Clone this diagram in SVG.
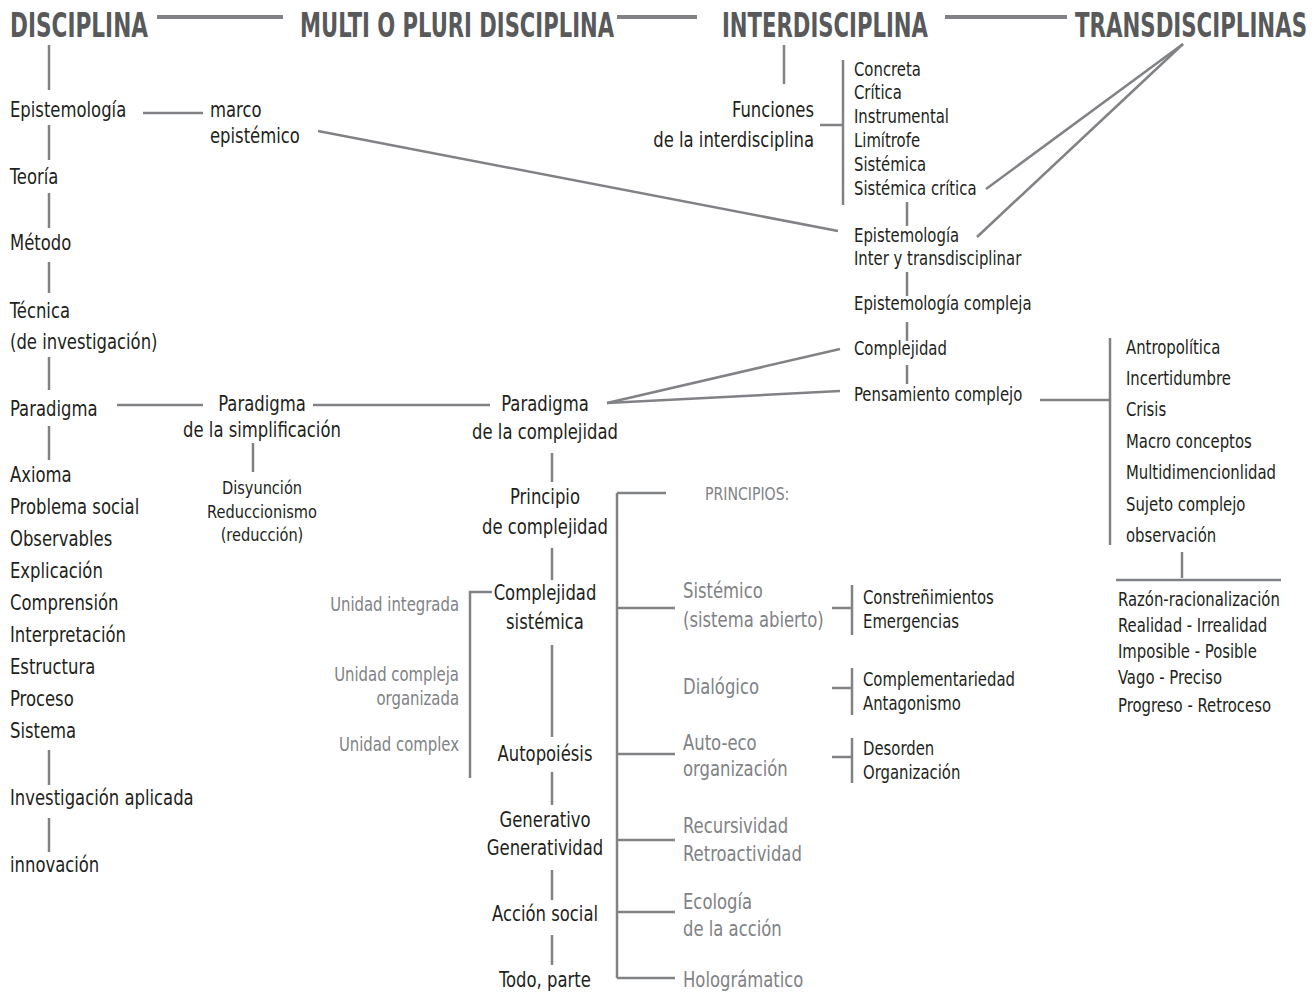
<svg xmlns="http://www.w3.org/2000/svg" width="1316" height="995" viewBox="0 0 1316 995">
<style>
text{font-family:"DejaVu Sans Condensed","DejaVu Sans","Liberation Sans",sans-serif;font-stretch:condensed;fill:#231f20;font-size:21px}
text:not(.h){transform-box:fill-box;transform-origin:left center;transform:scaleX(0.87)}
.h{font-weight:bold;font-size:22px;fill:#58595b}
.s{font-size:19px}
text.xs{font-size:18px;transform:scaleX(0.9)}
.g{fill:#808285}
text.m{text-anchor:middle;transform-origin:center center}
text.e{text-anchor:end;transform-origin:right center}
.pr{font-size:18px}
#connectors line,#connectors polyline{stroke:#808285;stroke-width:2.5;fill:none}
#connectors .hd{stroke-width:4}
</style>
<rect width="1316" height="995" fill="#ffffff"/>
<g id="connectors">
<line class="hd" x1="157" y1="17" x2="283" y2="17"/>
<line class="hd" x1="617" y1="17" x2="697" y2="17"/>
<line class="hd" x1="945" y1="17" x2="1067" y2="17"/>
<line x1="49" y1="45" x2="49" y2="90"/>
<line x1="49" y1="125" x2="49" y2="160"/>
<line x1="49" y1="193" x2="49" y2="228"/>
<line x1="49" y1="262" x2="49" y2="293"/>
<line x1="49" y1="357" x2="49" y2="390"/>
<line x1="49" y1="426" x2="49" y2="460"/>
<line x1="49" y1="750" x2="49" y2="785"/>
<line x1="49" y1="818" x2="49" y2="852"/>
<line x1="143" y1="113" x2="203" y2="113"/>
<line x1="318" y1="131" x2="838" y2="231"/>
<line x1="784" y1="45" x2="784" y2="84"/>
<line x1="820" y1="125" x2="843" y2="125"/>
<line x1="843" y1="60" x2="843" y2="205"/>
<line x1="907" y1="202" x2="907" y2="226"/>
<line x1="907" y1="272" x2="907" y2="296"/>
<line x1="907" y1="322" x2="907" y2="341"/>
<line x1="907" y1="365" x2="907" y2="384"/>
<line x1="1183" y1="44" x2="986" y2="189"/>
<line x1="1183" y1="44" x2="977" y2="237"/>
<line x1="607" y1="403" x2="840" y2="349"/>
<line x1="607" y1="403" x2="840" y2="391"/>
<line x1="1040" y1="400" x2="1110" y2="400"/>
<line x1="1110" y1="338" x2="1110" y2="545"/>
<line x1="1182" y1="552" x2="1182" y2="578"/>
<line x1="1116" y1="580" x2="1281" y2="580"/>
<line x1="117" y1="405" x2="203" y2="405"/>
<line x1="313" y1="405" x2="490" y2="405"/>
<line x1="253" y1="443" x2="253" y2="472"/>
<line x1="552" y1="453" x2="552" y2="482"/>
<line x1="552" y1="548" x2="552" y2="580"/>
<line x1="552" y1="645" x2="552" y2="737"/>
<line x1="552" y1="772" x2="552" y2="805"/>
<line x1="552" y1="870" x2="552" y2="900"/>
<line x1="552" y1="935" x2="552" y2="965"/>
<polyline points="492,592 470,592 470,778"/>
<line x1="617" y1="493" x2="617" y2="978"/>
<line x1="617" y1="493" x2="666" y2="493"/>
<line x1="617" y1="608" x2="675" y2="608"/>
<line x1="617" y1="754" x2="675" y2="754"/>
<line x1="617" y1="840" x2="675" y2="840"/>
<line x1="617" y1="912" x2="675" y2="912"/>
<line x1="617" y1="978" x2="675" y2="978"/>
<line x1="832" y1="608" x2="852" y2="608"/>
<line x1="852" y1="585" x2="852" y2="635"/>
<line x1="832" y1="688" x2="852" y2="688"/>
<line x1="852" y1="668" x2="852" y2="715"/>
<line x1="832" y1="757" x2="852" y2="757"/>
<line x1="852" y1="738" x2="852" y2="783"/>
</g>
<g id="headers" transform="translate(0 37) scale(1 1.5) translate(0 -37)">
<text class="h" x="10" y="37" textLength="138" lengthAdjust="spacingAndGlyphs">DISCIPLINA</text>
<text class="h" x="300" y="37" textLength="314" lengthAdjust="spacingAndGlyphs">MULTI O PLURI DISCIPLINA</text>
<text class="h" x="722" y="37" textLength="206" lengthAdjust="spacingAndGlyphs">INTERDISCIPLINA</text>
<text class="h" x="1075" y="37" textLength="232" lengthAdjust="spacingAndGlyphs">TRANSDISCIPLINAS</text>
</g>
<g id="disciplina-column">
<text x="10" y="117">Epistemología</text>
<text x="10" y="184">Teoría</text>
<text x="10" y="250">Método</text>
<text x="10" y="318">Técnica</text>
<text x="10" y="349">(de investigación)</text>
<text x="10" y="416">Paradigma</text>
<text x="10" y="482">Axioma</text>
<text x="10" y="514">Problema social</text>
<text x="10" y="546">Observables</text>
<text x="10" y="578">Explicación</text>
<text x="10" y="610">Comprensión</text>
<text x="10" y="642">Interpretación</text>
<text x="10" y="674">Estructura</text>
<text x="10" y="706">Proceso</text>
<text x="10" y="738">Sistema</text>
<text x="10" y="805">Investigación aplicada</text>
<text x="10" y="872">innovación</text>
</g>
<g id="marco">
<text x="210" y="117">marco</text>
<text x="210" y="143">epistémico</text>
</g>
<g id="simplificacion">
<text class="m" x="262" y="411">Paradigma</text>
<text class="m" x="262" y="437">de la simplificación</text>
<text class="m xs" x="262" y="494">Disyunción</text>
<text class="m xs" x="262" y="518">Reduccionismo</text>
<text class="m xs" x="262" y="541">(reducción)</text>
</g>
<g id="complejidad-column">
<text class="m" x="545" y="411">Paradigma</text>
<text class="m" x="545" y="439">de la complejidad</text>
<text class="m" x="545" y="504">Principio</text>
<text class="m" x="545" y="534">de complejidad</text>
<text class="m" x="545" y="600">Complejidad</text>
<text class="m" x="545" y="629">sistémica</text>
<text class="m" x="545" y="761">Autopoiésis</text>
<text class="m" x="545" y="827">Generativo</text>
<text class="m" x="545" y="855">Generatividad</text>
<text class="m" x="545" y="921">Acción social</text>
<text class="m" x="545" y="987">Todo, parte</text>
</g>
<g id="unidad">
<text class="e s g" x="459" y="611">Unidad integrada</text>
<text class="e s g" x="459" y="681">Unidad compleja</text>
<text class="e s g" x="459" y="705">organizada</text>
<text class="e s g" x="459" y="751">Unidad complex</text>
</g>
<g id="principios">
<text class="pr g" x="705" y="500">PRINCIPIOS:</text>
<text class="g" x="683" y="598">Sistémico</text>
<text class="g" x="683" y="627">(sistema abierto)</text>
<text class="g" x="683" y="694">Dialógico</text>
<text class="g" x="683" y="750">Auto-eco</text>
<text class="g" x="683" y="776">organización</text>
<text class="g" x="683" y="833">Recursividad</text>
<text class="g" x="683" y="861">Retroactividad</text>
<text class="g" x="683" y="909">Ecología</text>
<text class="g" x="683" y="936">de la acción</text>
<text class="g" x="683" y="987">Holográmatico</text>
</g>
<g id="sub-principios">
<text class="s" x="863" y="604">Constreñimientos</text>
<text class="s" x="863" y="628">Emergencias</text>
<text class="s" x="863" y="686">Complementariedad</text>
<text class="s" x="863" y="710">Antagonismo</text>
<text class="s" x="863" y="755">Desorden</text>
<text class="s" x="863" y="779">Organización</text>
</g>
<g id="funciones">
<text class="e" x="814" y="117">Funciones</text>
<text class="e" x="814" y="147">de la interdisciplina</text>
<text class="s" x="854" y="76">Concreta</text>
<text class="s" x="854" y="99">Crítica</text>
<text class="s" x="854" y="123">Instrumental</text>
<text class="s" x="854" y="147">Limítrofe</text>
<text class="s" x="854" y="171">Sistémica</text>
<text class="s" x="854" y="195">Sistémica crítica</text>
</g>
<g id="epistemologia-inter">
<text class="s" x="854" y="242">Epistemología</text>
<text class="s" x="854" y="265">Inter y transdisciplinar</text>
<text class="s" x="854" y="310">Epistemología compleja</text>
<text class="s" x="854" y="355">Complejidad</text>
<text class="s" x="854" y="401">Pensamiento complejo</text>
</g>
<g id="pensamiento-list">
<text class="s" x="1126" y="354">Antropolítica</text>
<text class="s" x="1126" y="385">Incertidumbre</text>
<text class="s" x="1126" y="416">Crisis</text>
<text class="s" x="1126" y="448">Macro conceptos</text>
<text class="s" x="1126" y="479">Multidimencionlidad</text>
<text class="s" x="1126" y="511">Sujeto complejo</text>
<text class="s" x="1126" y="542">observación</text>
</g>
<g id="pares">
<text class="s" x="1118" y="606">Razón-racionalización</text>
<text class="s" x="1118" y="632">Realidad - Irrealidad</text>
<text class="s" x="1118" y="658">Imposible - Posible</text>
<text class="s" x="1118" y="684">Vago - Preciso</text>
<text class="s" x="1118" y="712">Progreso - Retroceso</text>
</g>
</svg>
